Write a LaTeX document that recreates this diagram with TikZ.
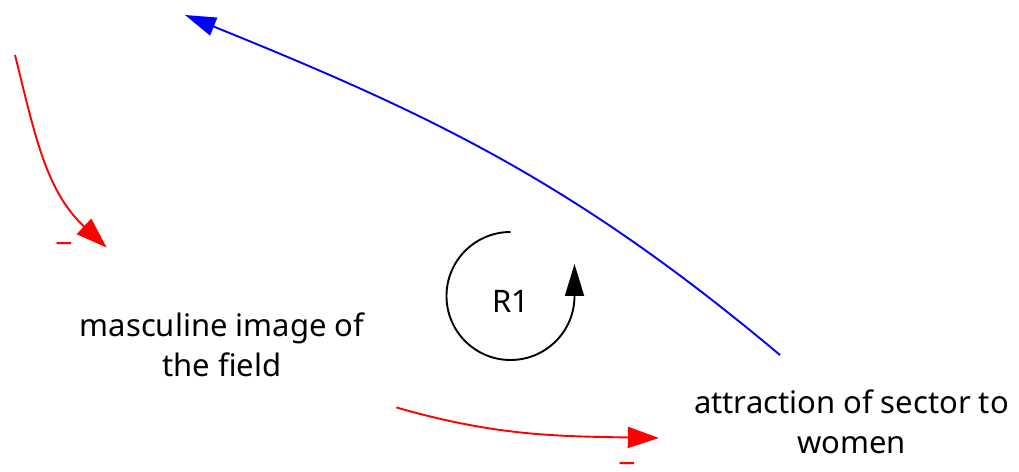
\documentclass[tikz,border=0pt]{standalone}
\usepackage{fontspec}
\setmainfont{Noto Sans}
\usetikzlibrary{arrows.meta}
\definecolor{LinkRed}{RGB}{255,0,0}
\definecolor{LinkBlue}{RGB}{0,0,255}
\tikzset{
	var/.style={align=center,inner sep=0pt,font=\fontsize{31}{40.5}\selectfont},
	sign/.style={text=LinkRed,inner sep=0pt,anchor=base,font=\fontsize{31}{31}\selectfont},
	neglink/.style={draw=LinkRed,line width=1.9pt,-{Triangle[length=31pt,width=21pt]}},
	poslink/.style={draw=LinkBlue,line width=1.9pt,-{Triangle[length=31pt,width=19pt]}},
	loopline/.style={draw=black,line width=1.9pt,-{Triangle[length=32pt,width=19pt]}},
}
\newcommand{\lowminus}{\raisebox{-7pt}[5pt][0pt]{−}}

\begin{document}
\begin{tikzpicture}[x=1pt,y=1pt]
	\useasboundingbox (0,0) rectangle (1019,471);
	\node[var] (masc) at (222,126) {masculine image of\\the field};
	\node[var] (attr) at (851.5,49) {attraction of sector to\\women};
	\node[var] (loop) at (510.5,170) {R1};
	\coordinate (topsrc) at (15,416);
	\coordinate (toptgt) at (185,456);
	\node[sign] (m1) at (64.5,223.5) {\lowminus};
	\node[sign] (m2) at (627.5,4) {\lowminus};
	\draw[neglink] (topsrc) to[out=-76,in=137] ([shift={(27,65)}]masc.north west);
	\draw[neglink] ([shift={(32,-30)}]masc.south east) to[out=-16,in=179] ([shift={(-35,-16)}]attr.west);
	\draw[poslink] ([shift={(-71.5,34.5)}]attr.north) to[out=140,in=-22] (toptgt);
	\draw[loopline] ([shift={(0,69)}]loop.center) arc[start angle=90,end angle=360,radius=64] -- ++(0,32);
\end{tikzpicture}
\end{document}
